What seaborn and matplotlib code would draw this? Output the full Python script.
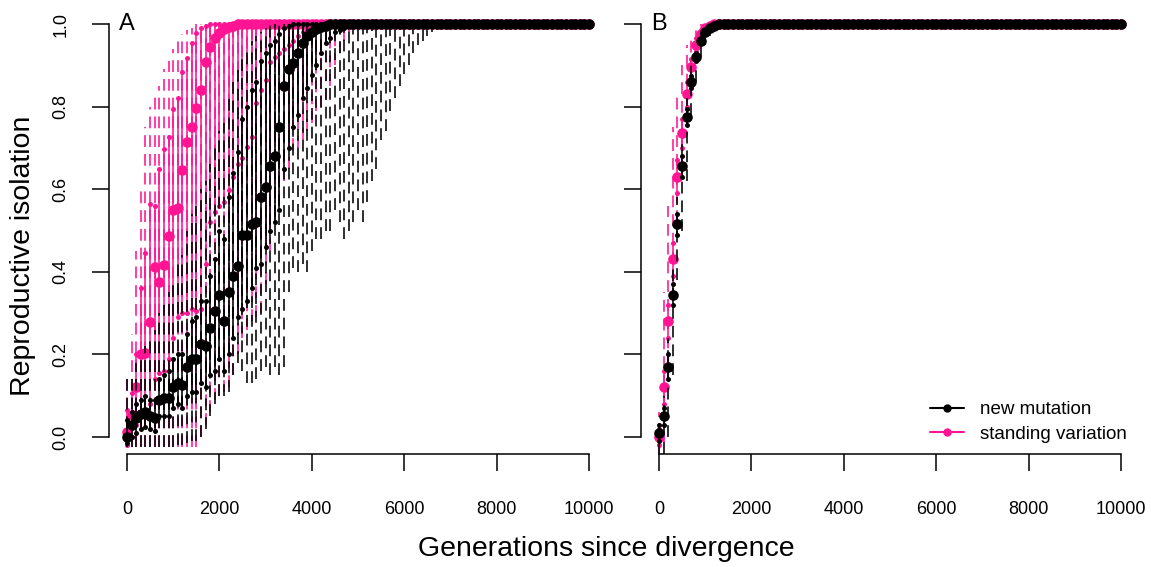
import numpy as np
import matplotlib
matplotlib.use("Agg")
import matplotlib.pyplot as plt
import seaborn as sns
from matplotlib.lines import Line2D

# ---------------- data ----------------
GENERATIONS = np.arange(0, 10001, 100)      # sampled every 100 generations
PLATEAU = 1.0                               # value every series settles at

# Panel A - new mutation (black)
A_NEW_MEAN = [0.0, 0.03, 0.045, 0.055, 0.06, 0.05, 0.045, 0.09, 0.095, 0.095,
              0.12, 0.13, 0.125, 0.17, 0.19, 0.19, 0.225, 0.22, 0.265, 0.305,
              0.345, 0.28, 0.35, 0.39, 0.415, 0.49, 0.49, 0.515, 0.52, 0.58,
              0.605, 0.655, 0.68, 0.75, 0.85, 0.89, 0.905, 0.93, 0.955, 0.97,
              0.98, 0.988, 0.993, 0.996]
A_NEW_HI = [0.04, 0.06, 0.08, 0.09, 0.10, 0.09, 0.09, 0.14, 0.15, 0.16,
            0.19, 0.20, 0.20, 0.25, 0.28, 0.29, 0.33, 0.33, 0.39, 0.43,
            0.50, 0.48, 0.58, 0.64, 0.69, 0.77, 0.80, 0.84, 0.86, 0.91,
            0.93, 0.95, 0.96, 0.975, 0.99, 0.995]
A_NEW_LO = [-0.015, 0.0, 0.01, 0.02, 0.025, 0.02, 0.015, 0.05, 0.05, 0.05,
            0.07, 0.08, 0.07, 0.10, 0.11, 0.11, 0.13, 0.12, 0.15, 0.16,
            0.19, 0.16, 0.20, 0.24, 0.29, 0.31, 0.33, 0.36, 0.41, 0.42,
            0.46, 0.50, 0.52, 0.55, 0.65, 0.70, 0.75, 0.78, 0.82, 0.845,
            0.877, 0.90, 0.93, 0.955, 0.965, 0.98, 0.985, 0.99, 0.995]
A_NEW_MIN = [-0.025, -0.025, -0.025, -0.025, -0.025, -0.025, -0.025, -0.025, -0.025, -0.025,
             -0.025, -0.02, -0.02, -0.015, -0.01, -0.01, 0.0, 0.02, 0.05, 0.08,
             0.10, 0.10, 0.11, 0.15, 0.18, 0.16, 0.13, 0.13, 0.14, 0.16,
             0.17, 0.15, 0.17, 0.15, 0.17, 0.35, 0.41, 0.40, 0.42, 0.40,
             0.45, 0.48, 0.48, 0.50, 0.50, 0.55, 0.52, 0.48, 0.50, 0.52,
             0.55, 0.52, 0.57, 0.62, 0.65, 0.72, 0.74, 0.79, 0.82, 0.85,
             0.88, 0.90, 0.93, 0.95, 0.96, 0.97, 0.98]
A_NEW_MAX = [0.14, 0.15, 0.18, 0.20, 0.22, 0.24, 0.26, 0.30, 0.32, 0.35,
             0.38, 0.42, 0.44, 0.50, 0.54, 0.56, 0.60, 0.62, 0.66, 0.70,
             0.74, 0.76, 0.82, 0.86, 0.89, 0.92, 0.94, 0.96, 0.97, 0.98,
             0.99]

# Panel A - standing variation (pink)
A_STD_MEAN = [0.013, 0.053, 0.122, 0.201, 0.203, 0.279, 0.412, 0.376, 0.416, 0.487,
              0.55, 0.555, 0.646, 0.715, 0.751, 0.796, 0.84, 0.909, 0.945, 0.966,
              0.978, 0.988, 0.993, 0.996]
A_STD_HI = [0.065, 0.107, 0.20, 0.36, 0.445, 0.565, 0.56, 0.65, 0.697, 0.727,
            0.794, 0.82, 0.884, 0.918, 0.954, 0.978, 0.99, 0.995]
A_STD_LO = [-0.02, 0.0, 0.03, 0.06, 0.05, 0.08, 0.14, 0.155, 0.16, 0.19,
            0.24, 0.29, 0.30, 0.30, 0.31, 0.305, 0.31, 0.42, 0.52, 0.545,
            0.56, 0.57, 0.598, 0.63, 0.66, 0.675, 0.703, 0.727, 0.808, 0.84,
            0.864, 0.909, 0.92, 0.93, 0.94, 0.95, 0.96, 0.97, 0.98, 0.985,
            0.99]
A_STD_MIN = [-0.025, -0.025, -0.025, -0.025, -0.025, -0.025, -0.025, -0.025, -0.025, -0.025,
             -0.025, -0.025, -0.025, -0.025, -0.025, -0.025, 0.0, 0.03, 0.06, 0.09,
             0.10, 0.11, 0.12, 0.15, 0.20, 0.24, 0.26, 0.28, 0.29, 0.30,
             0.37, 0.45, 0.52, 0.57, 0.62, 0.65, 0.695, 0.70, 0.72, 0.74,
             0.76, 0.79, 0.80, 0.815, 0.85, 0.90, 0.93, 0.96, 0.98]
A_STD_MAX = [0.14, 0.25, 0.45, 0.60, 0.75, 0.80, 0.83, 0.85, 0.89, 0.91,
             0.94, 0.96, 0.975, 0.985, 0.99]

# Panel B - new mutation (black)
B_NEW_MEAN = [0.01, 0.05, 0.17, 0.345, 0.515, 0.655, 0.775, 0.86, 0.92, 0.96, 0.98, 0.99, 0.995]
B_NEW_LO = [-0.01, 0.03, 0.14, 0.32, 0.49, 0.63, 0.755, 0.845, 0.91, 0.955, 0.975, 0.985, 0.99]
B_NEW_HI = [0.03, 0.07, 0.20, 0.37, 0.54, 0.68, 0.795, 0.875, 0.93, 0.965, 0.985, 0.995]
B_NEW_MIN = [-0.04, -0.04, 0.0, 0.15, 0.38, 0.50, 0.62, 0.78, 0.86, 0.92, 0.95, 0.97, 0.985]
B_NEW_MAX = [0.05, 0.10, 0.24, 0.41, 0.58, 0.71, 0.82, 0.90, 0.95, 0.98, 0.99]

# Panel B - standing variation (pink)
B_STD_MEAN = [0.0, 0.12, 0.28, 0.43, 0.63, 0.735, 0.83, 0.895, 0.95, 0.975, 0.99, 0.995]
B_STD_LO = [-0.02, 0.08, 0.24, 0.39, 0.59, 0.70, 0.80, 0.875, 0.935, 0.965, 0.985, 0.99]
B_STD_HI = [0.02, 0.16, 0.32, 0.47, 0.67, 0.77, 0.86, 0.915, 0.965, 0.985, 0.995]
B_STD_MIN = [-0.04, -0.015, 0.17, 0.33, 0.52, 0.65, 0.76, 0.84, 0.91, 0.95, 0.975, 0.99]
B_STD_MAX = [0.06, 0.35, 0.56, 0.75, 0.83, 0.90, 0.95, 0.97, 0.99]

SERIES_LABELS = ["new mutation", "standing variation"]
X_TICKS = [0, 2000, 4000, 6000, 8000, 10000]
Y_TICKS = [0.0, 0.2, 0.4, 0.6, 0.8, 1.0]
PANEL_LABELS = ["A", "B"]

# ---------------- styling ----------------
BLACK = "#000000"
PINK = "#FF1493"

sns.set_style("white")
plt.rcParams["font.family"] = ["Liberation Sans", "DejaVu Sans"]
plt.rcParams["lines.scale_dashes"] = False
plt.rcParams["text.color"] = "black"
plt.rcParams["axes.labelcolor"] = "black"

W, H = 1151, 567
fig = plt.figure(figsize=(W / 100, H / 100), dpi=100)


def full(values):
    """complete a series with its plateau value after it has settled"""
    return np.array(list(values) + [PLATEAU] * (len(GENERATIONS) - len(values)))


def draw_series(ax, mean, lo, hi, mn, mx, color, z):
    mean, lo, hi, mn, mx = map(full, (mean, lo, hi, mn, mx))
    ax.vlines(GENERATIONS, mn, mx, colors=color, linestyles=[(0, (8.5, 5.0))],
              lw=1.15, zorder=z)
    ax.vlines(GENERATIONS, lo, hi, colors=color, lw=1.15, zorder=z + 0.1)
    ax.plot(GENERATIONS, lo, "o", ms=3.6, color=color, mew=0, zorder=z + 0.2)
    ax.plot(GENERATIONS, hi, "o", ms=3.6, color=color, mew=0, zorder=z + 0.2)
    sns.scatterplot(x=GENERATIONS, y=mean, ax=ax, color=color, s=58,
                    linewidth=0, zorder=z + 0.3)


def px_axes(x0, x1, y0, y1):
    # x0..x1 and y0..y1 are pixel edges (y from top)
    return fig.add_axes([x0 / W, 1 - y1 / H, (x1 - x0) / W, (y1 - y0) / H])


axA = px_axes(108.5, 607.5, 7.5, 453.5)
axB = px_axes(640.5, 1139.5, 7.5, 453.5)

draw_series(axA, A_STD_MEAN, A_STD_LO, A_STD_HI, A_STD_MIN, A_STD_MAX, PINK, 2)
draw_series(axA, A_NEW_MEAN, A_NEW_LO, A_NEW_HI, A_NEW_MIN, A_NEW_MAX, BLACK, 3)
draw_series(axB, B_STD_MEAN, B_STD_LO, B_STD_HI, B_STD_MIN, B_STD_MAX, PINK, 2)
draw_series(axB, B_NEW_MEAN, B_NEW_LO, B_NEW_HI, B_NEW_MIN, B_NEW_MAX, BLACK, 3)

for ax, lab in zip((axA, axB), PANEL_LABELS):
    ax.set_xlim(-400, 10400)
    ax.set_ylim(-0.04, 1.04)
    ax.set_facecolor("none")
    for s in ("top", "right"):
        ax.spines[s].set_visible(False)
    ax.spines["left"].set_bounds(0, 1)
    ax.spines["bottom"].set_bounds(0, 10000)
    for s in ("left", "bottom"):
        ax.spines[s].set_linewidth(1.1)
        ax.spines[s].set_color("black")
    ax.set_xticks(X_TICKS)
    ax.set_xticklabels([str(v) for v in X_TICKS])
    ax.set_yticks(Y_TICKS)
    ax.set_yticklabels([f"{v:.1f}" for v in Y_TICKS], rotation=90, va="center")
    ax.tick_params(axis="both", direction="out", length=12, width=1.1,
                   labelsize=13, colors="black", labelcolor="black")
    ax.tick_params(axis="x", pad=22, bottom=True)
    ax.tick_params(axis="y", pad=16, left=True)
    ax.set_xlabel("")
    ax.set_ylabel("")
    ax.text(0, 1.0, lab, ha="center", va="center", fontsize=17, color="black",
            zorder=10)

axB.set_yticklabels([])

fig.text(606 / W, 1 - 549 / H, "Generations since divergence", ha="center",
         va="center", fontsize=20.5, color="black")
fig.text(23 / W, 1 - 256 / H, "Reproductive isolation", ha="center",
         va="center", rotation=90, fontsize=20.5, color="black")

handles = [Line2D([], [], color=BLACK, marker="o", ms=5, lw=1.5),
           Line2D([], [], color=PINK, marker="o", ms=5, lw=1.5)]
leg = axB.legend(handles, SERIES_LABELS, loc="upper left",
                 bbox_to_anchor=(930 / W, 1 - 401 / H), bbox_transform=fig.transFigure,
                 frameon=False, fontsize=13.5, handlelength=1.8, handletextpad=0.85,
                 labelspacing=0.4, borderpad=0, borderaxespad=0)
for t in leg.get_texts():
    t.set_color("black")

fig.savefig("out.png", dpi=100, facecolor="white")
